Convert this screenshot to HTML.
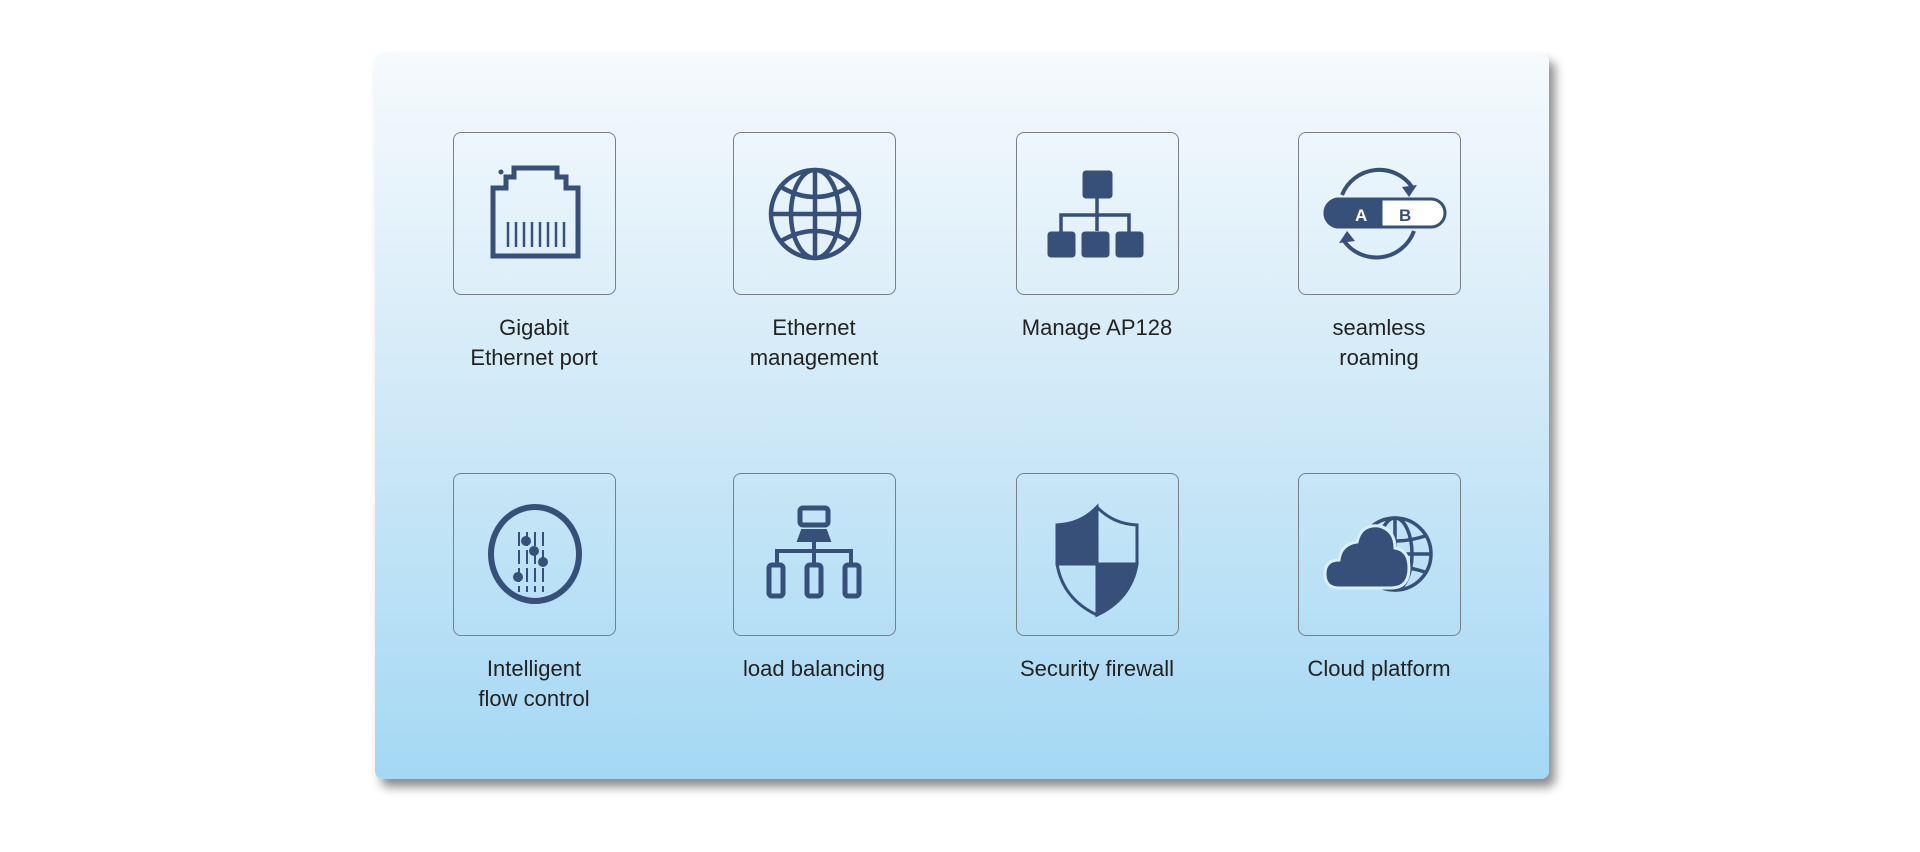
<!DOCTYPE html>
<html><head><meta charset="utf-8"><style>
html,body{margin:0;padding:0;background:#fff;width:1920px;height:852px;overflow:hidden}
.panel{position:absolute;left:375px;top:53px;width:1174px;height:726px;border-radius:8px;
background:linear-gradient(to bottom,#f6fafd 0%,#d7ecf8 40%,#a4d8f4 100%);
box-shadow:6px 8px 10px rgba(0,0,0,0.45)}
.box{position:absolute;width:161px;height:161px;border:1px solid #7a7f86;border-radius:8px}
.box svg{position:absolute;left:0;top:0;width:161px;height:161px}
.lab{position:absolute;width:260px;text-align:center;font-family:"Liberation Sans",sans-serif;font-size:22px;line-height:30px;color:#222}
</style></head><body>
<div class="panel"></div>

<div class="box" style="left:453px;top:132px"><svg viewBox="0 0 161 161" fill="none" stroke="#36507a">
<path d="M39 55 H52 V44 H60 V35 H103 V44 H112 V55 H124 V123 H39 Z" stroke-width="5"/>
<circle cx="47" cy="39" r="2.5" fill="#36507a" stroke="none"/>
<g stroke-width="2.5"><path d="M54 89v25M62 89v25M70 89v25M78 89v25M86 89v25M94 89v25M102 89v25M110 89v25"/></g>
</svg></div>
<div class="lab" style="left:404px;top:313px">Gigabit<br>Ethernet port</div>

<div class="box" style="left:733px;top:132px"><svg viewBox="0 0 161 161" fill="none" stroke="#36507a" stroke-width="4.5">
<circle cx="81" cy="81" r="44"/><ellipse cx="81" cy="81" rx="24" ry="44"/>
<path d="M81 37V125M37 81H125M47 54Q81 74 115 54M47 108Q81 88 115 108"/>
</svg></div>
<div class="lab" style="left:684px;top:313px">Ethernet<br>management</div>

<div class="box" style="left:1016px;top:132px"><svg viewBox="0 0 161 161" fill="#36507a" stroke="#36507a">
<rect x="66" y="38" width="29" height="27" rx="3"/>
<rect x="31" y="99" width="27" height="25" rx="3"/><rect x="65" y="99" width="27" height="25" rx="3"/><rect x="99" y="99" width="27" height="25" rx="3"/>
<path d="M80 65V98M44 99V82H112V99" fill="none" stroke-width="3.5"/>
</svg></div>
<div class="lab" style="left:967px;top:313px">Manage AP128</div>

<div class="box" style="left:1298px;top:132px"><svg viewBox="0 0 161 161" fill="none" stroke="#36507a">
<path d="M43 62 A40 40 0 0 1 113 54" stroke-width="4"/>
<path d="M118 52 L110 64 L103 54 Z" fill="#36507a" stroke="none"/>
<path d="M115 98 A40 40 0 0 1 45 108" stroke-width="4"/>
<path d="M40 110 L48 98 L56 108 Z" fill="#36507a" stroke="none"/>
<path d="M40 66 H132 A14 14 0 0 1 132 94 H40 A14 14 0 0 1 40 66 Z" fill="#fff" stroke-width="3"/>
<path d="M40 66 H82 V94 H40 A14 14 0 0 1 40 66 Z" fill="#36507a" stroke-width="3"/>
<text x="56" y="88" font-family="Liberation Sans,sans-serif" font-weight="bold" font-size="17" fill="#fff" stroke="none">A</text>
<text x="100" y="88" font-family="Liberation Sans,sans-serif" font-weight="bold" font-size="17" fill="#36507a" stroke="none">B</text>
</svg></div>
<div class="lab" style="left:1249px;top:313px">seamless<br>roaming</div>

<div class="box" style="left:453px;top:473px"><svg viewBox="0 0 161 161" fill="#36507a" stroke="#36507a">
<ellipse cx="81" cy="80" rx="44" ry="47" fill="none" stroke-width="6"/>
<g stroke-width="2"><path d="M65 58v60M73 58v60M81 58v60M89 58v60" stroke-dasharray="14 4"/></g>
<circle cx="64" cy="103" r="4.5"/><circle cx="72" cy="67" r="4.5"/><circle cx="80" cy="77" r="4.5"/><circle cx="89" cy="88" r="4.5"/>
</svg></div>
<div class="lab" style="left:404px;top:654px">Intelligent<br>flow control</div>

<div class="box" style="left:733px;top:473px"><svg viewBox="0 0 161 161" fill="none" stroke="#36507a" stroke-width="5">
<rect x="66" y="34" width="28" height="17" rx="3"/>
<path d="M68 56H92L96 67H64Z" fill="#36507a" stroke-width="2"/>
<path d="M80 67V77M43 90V77H117V90M80 77V90" stroke-width="4"/>
<rect x="35" y="91" width="14" height="31" rx="3"/><rect x="73" y="91" width="14" height="31" rx="3"/><rect x="111" y="91" width="14" height="31" rx="3"/>
</svg></div>
<div class="lab" style="left:684px;top:654px">load balancing</div>

<div class="box" style="left:1016px;top:473px"><svg viewBox="0 0 161 161" fill="#36507a" stroke="#36507a" stroke-width="3">
<path d="M40 51 Q64 50 80 33 Q96 50 120 51 V90 Q114 125 80 141 Q46 125 40 90 Z" fill="none"/>
<path d="M40 51 Q64 50 80 33 V90 H40 Z"/>
<path d="M80 90 H120 Q114 125 80 141 Z"/>
</svg></div>
<div class="lab" style="left:967px;top:654px">Security firewall</div>

<div class="box" style="left:1298px;top:473px"><svg viewBox="0 0 161 161" fill="none" stroke="#36507a" stroke-width="3.5">
<circle cx="96" cy="80" r="36"/><ellipse cx="96" cy="80" rx="17" ry="36"/>
<path d="M96 44V116M60 80H132M66 62Q96 72 126 62M66 98Q96 88 126 98"/>
<path d="M40 114 Q26 114 26 100 Q26 86 40 86 Q42 70 58 68 Q62 50 80 52 Q96 56 96 74 Q110 76 110 94 Q110 114 92 114 Z" fill="#36507a" stroke="#d8eef9" stroke-width="3"/>
</svg></div>
<div class="lab" style="left:1249px;top:654px">Cloud platform</div>
</body></html>
